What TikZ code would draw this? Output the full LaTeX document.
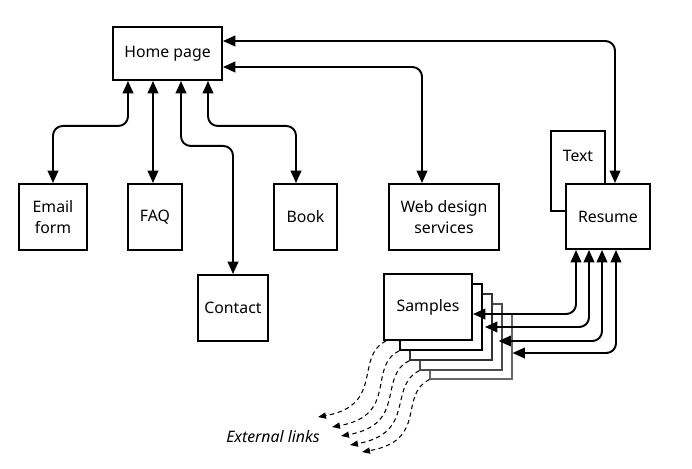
\documentclass[tikz,border=0pt]{standalone}
\usepackage{fontspec}
\setmainfont{Noto Sans}
\usetikzlibrary{arrows.meta,positioning}
\tikzset{
	txt/.style={font=\fontsize{9}{11.7}\selectfont},
	page/.style={txt, draw, line width=1.1pt, fill=white, align=center, inner sep=0pt},
	link/.style={line width=1.1pt, rounded corners=5.5pt, {Triangle[length=7pt,width=6pt]}-{Triangle[length=7pt,width=6pt]}},
	extlink/.style={line width=0.6pt, dash pattern=on 2.5pt off 2pt, -{Triangle[length=4.5pt,width=3.5pt]}}
}

\begin{document}
\begin{tikzpicture}[x=0.02cm,y=-0.02cm]
	\useasboundingbox (0,0) rectangle (692,469);

	\node (home)[page, minimum width=2.18cm, minimum height=1.06cm] at (167.5,53.5) {Home page};
	\node (email)[page, minimum width=1.36cm, minimum height=1.32cm] at (53,217) {Email\\form};
	\node (faq)[page, minimum width=1.08cm, minimum height=1.32cm] at (155,217) {FAQ};
	\node (book)[page, minimum width=1.26cm, minimum height=1.32cm] at (305.5,217) {Book};
	\node (web)[page, minimum width=2.2cm, minimum height=1.32cm] at (444,217) {Web design\\services};
	\node (contact)[page, minimum width=1.4cm, minimum height=1.32cm] at (233,308) {Contact};

	\node (textbox)[page, minimum width=1.08cm, minimum height=1.6cm] at (578,171) {};
	\node (textlbl)[txt, inner sep=0pt, below=0.4cm of textbox.north] {Text};
	\node (resume)[page, minimum width=1.68cm, minimum height=1.3cm] at (608,216.5) {Resume};

	\node (samples5)[page, line width=0.6pt, draw=black!60, minimum width=1.64cm, minimum height=1.3cm] at (471,346.5) {};
	\node (samples4)[page, line width=0.7pt, draw=black!70, minimum width=1.64cm, minimum height=1.32cm] at (461,337) {};
	\node (samples3)[page, line width=0.9pt, draw=black!80, minimum width=1.64cm, minimum height=1.32cm] at (451,327) {};
	\node (samples2)[page, minimum width=1.64cm, minimum height=1.32cm] at (441,317) {};
	\node (samples)[page, minimum width=1.76cm, minimum height=1.32cm] at (428,307) {Samples};

	\node (extlinks)[txt, font=\fontsize{9}{11.7}\selectfont\itshape] at (273,437) {External links};
	\coordinate (e1) at (318,417);
	\coordinate (e2) at (332,427);
	\coordinate (e3) at (341,436);
	\coordinate (e4) at (350,445);
	\coordinate (e5) at (362,452);

	\draw [link] ([xshift=-0.79cm]home.south) -- ++(0,45) -| (email.north);
	\draw [link] ([xshift=-0.29cm]home.south) -- ([xshift=-0.29cm]home.south |- faq.north);
	\draw [link] ([xshift=0.27cm]home.south) -- ++(0,65) -| (contact.north);
	\draw [link] ([xshift=0.81cm]home.south) -- ++(0,45) -| ([xshift=-0.19cm]book.north);
	\draw [link] ([yshift=-0.27cm]home.east) -| ([xshift=-0.44cm]web.north);
	\draw [link] ([yshift=0.25cm]home.east) -| ([xshift=0.14cm]resume.north);

	\draw [link] ([xshift=-0.64cm]resume.south) |- ([yshift=-0.14cm]samples.east);
	\draw [link] ([xshift=-0.38cm]resume.south) |- ([xshift=0.04cm,yshift=-0.2cm]samples2.east);
	\draw [link] ([xshift=-0.12cm]resume.south) |- ([xshift=-0.08cm,yshift=-0.08cm]samples4.east);
	\draw [link] ([xshift=0.16cm]resume.south) |- ([yshift=-0.13cm]samples5.east);

	\draw [extlink] ([xshift=0.06cm]samples.south west) .. controls +(-32,16) and +(67,-12) .. (e1);
	\draw [extlink] (samples2.south west) .. controls +(-32,16) and +(67,-12) .. (e2);
	\draw [extlink] (samples3.south west) .. controls +(-32,16) and +(67,-12) .. (e3);
	\draw [extlink] (samples4.south west) .. controls +(-32,16) and +(67,-12) .. (e4);
	\draw [extlink] (samples5.south west) .. controls +(-32,16) and +(67,-12) .. (e5);

\end{tikzpicture}
\end{document}
